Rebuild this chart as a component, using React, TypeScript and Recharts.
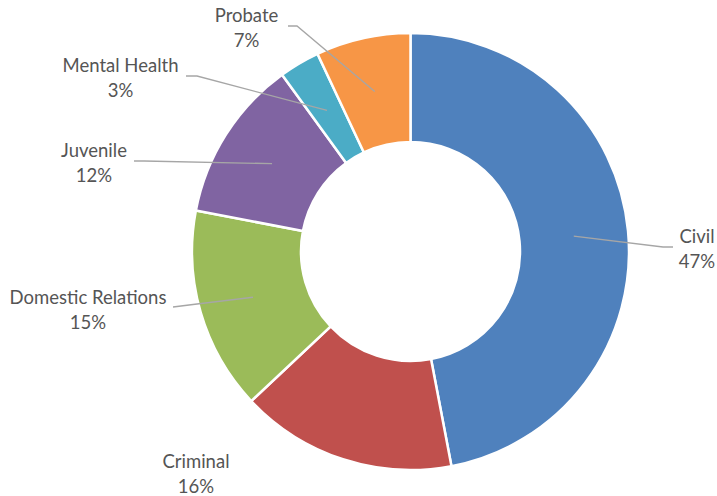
import React from 'react';
import { PieChart, Pie, Cell } from 'recharts';

const categories = ['Civil', 'Criminal', 'Domestic Relations', 'Juvenile', 'Mental Health', 'Probate'];
const shares = [47, 16, 15, 12, 3, 7];
const percentLabels = ['47%', '16%', '15%', '12%', '3%', '7%'];

const COLORS = ['#4F81BD', '#C0504D', '#9BBB59', '#8064A2', '#4BACC6', '#F79646'];

// label layout (text block centre and leader line elbow/end), Excel-style placement
const LABEL_LAYOUT = [
  { tx: 697, ty: 248.5, elbow: [663, 247], end: [673, 247] },
  { tx: 196, ty: 473, elbow: null, end: null },
  { tx: 88, ty: 309.5, elbow: [197, 304], end: [173, 307] },
  { tx: 94, ty: 162, elbow: [144, 161], end: [134, 161] },
  { tx: 120.5, ty: 77.5, elbow: [197, 76], end: [186, 76] },
  { tx: 246.5, ty: 27.5, elbow: [297, 26], end: [288, 26] },
];

const data = categories.map((name, i) => ({ name, value: shares[i], pct: percentLabels[i] }));

const RAD = Math.PI / 180;

const renderLabel = (props: any) => {
  const { cx, cy, midAngle, innerRadius, outerRadius, index } = props;
  const lay = LABEL_LAYOUT[index];
  const r = (Number(innerRadius) + Number(outerRadius)) / 2;
  const sx = Number(cx) + r * Math.cos(-midAngle * RAD);
  const sy = Number(cy) + r * Math.sin(-midAngle * RAD);
  const d = data[index];
  return (
    <g key={`lbl-${index}`}>
      {lay.elbow && lay.end && (
        <polyline
          points={`${sx},${sy} ${lay.elbow[0]},${lay.elbow[1]} ${lay.end[0]},${lay.end[1]}`}
          fill="none"
          stroke="#A6A6A6"
          strokeWidth={1.3}
        />
      )}
      <text
        x={lay.tx}
        y={lay.ty - 12.5}
        textAnchor="middle"
        dominantBaseline="central"
        fill="#555555"
        fontFamily="Lato, 'Open Sans', sans-serif"
        fontSize={18.5}
      >
        {d.name}
      </text>
      <text
        x={lay.tx}
        y={lay.ty + 12.5}
        textAnchor="middle"
        dominantBaseline="central"
        fill="#555555"
        fontFamily="Lato, 'Open Sans', sans-serif"
        fontSize={18.5}
      >
        {d.pct}
      </text>
    </g>
  );
};

export default function App() {
  return (
    <div style={{ position: 'absolute', left: 0, top: 0, width: 717, height: 496, background: '#fff' }}>
      <PieChart width={717} height={496} margin={{ top: 0, right: 0, bottom: 0, left: 0 }}>
        <Pie
          data={data}
          dataKey="value"
          nameKey="name"
          cx={410.5}
          cy={251.5}
          innerRadius={109.5}
          outerRadius={218.5}
          startAngle={90}
          endAngle={-270}
          stroke="#FFFFFF"
          strokeWidth={2.5}
          label={renderLabel}
          labelLine={false}
          isAnimationActive={false}
        >
          {data.map((_, i) => (
            <Cell key={`c-${i}`} fill={COLORS[i]} />
          ))}
        </Pie>
      </PieChart>
    </div>
  );
}
